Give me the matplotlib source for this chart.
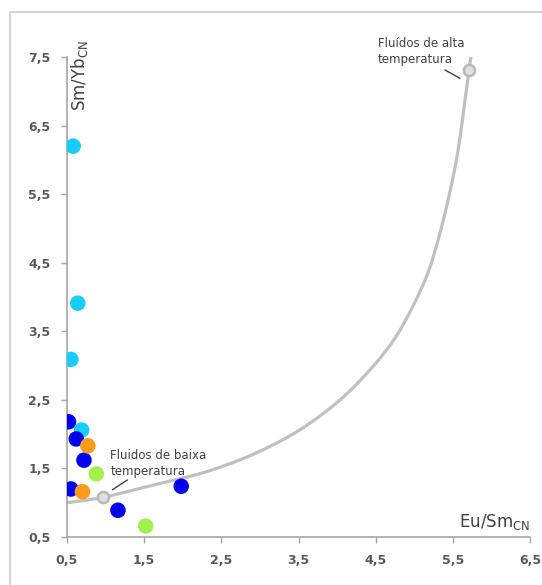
import matplotlib
matplotlib.use("Agg")
import numpy as np
import matplotlib.pyplot as plt
from matplotlib.patches import Rectangle, PathPatch
from matplotlib.path import Path

# Samples grouped by colour (Eu/Sm_CN, Sm/Yb_CN)
blue_x = [0.52, 0.62, 0.72, 0.55, 1.98, 1.16]
blue_y = [2.18, 1.93, 1.62, 1.20, 1.24, 0.89]
cyan_x = [0.58, 0.64, 0.55, 0.69]
cyan_y = [6.20, 3.91, 3.09, 2.06]
orange_x = [0.77, 0.70]
orange_y = [1.83, 1.16]
green_x = [0.88, 1.52]
green_y = [1.42, 0.66]

# Fluid evolution curve
curve_x = [0.50, 0.97, 1.70, 2.30, 2.90, 3.50, 4.04, 4.46, 4.75, 4.98,
           5.18, 5.33, 5.46, 5.565, 5.64, 5.71, 5.74]
curve_y = [1.00, 1.08, 1.28, 1.45, 1.70, 2.05, 2.50, 2.98, 3.40, 3.86,
           4.36, 4.92, 5.52, 6.12, 6.72, 7.31, 7.55]
end_x = [0.97, 5.71]
end_y = [1.08, 7.31]

x_ticks = [0.5, 1.5, 2.5, 3.5, 4.5, 5.5, 6.5]
y_ticks = [0.5, 1.5, 2.5, 3.5, 4.5, 5.5, 6.5, 7.5]


def smooth_path(xs, ys):
    """Cubic Bezier path through the points (Catmull-Rom tangents)."""
    p = np.column_stack([xs, ys]).astype(float)
    n = len(p)
    verts = [p[0]]
    codes = [Path.MOVETO]
    for i in range(n - 1):
        p0 = p[i - 1] if i > 0 else p[i]
        p1 = p[i]
        p2 = p[i + 1]
        p3 = p[i + 2] if i + 2 < n else p[i + 1]
        c1 = p1 + (p2 - p0) / 6.0
        c2 = p2 - (p3 - p1) / 6.0
        verts += [c1, c2, p2]
        codes += [Path.CURVE4] * 3
    return Path(verts, codes)


fig = plt.figure(figsize=(5.42, 5.85), dpi=100)
ax = fig.add_axes([67 / 542, 1 - 537 / 585, (530 - 67) / 542, (537 - 57) / 585])

# outer chart-area border
fig.patches.append(Rectangle((10 / 542, -0.02), 1.05, 1 - 12 / 585 + 0.02,
                             transform=fig.transFigure, fill=False,
                             edgecolor="#d4d4d4", linewidth=1.5))

ax.add_patch(PathPatch(smooth_path(curve_x, curve_y), facecolor="none",
                       edgecolor="#c0c0c0", linewidth=2.3, zorder=2,
                       capstyle="round", joinstyle="round"))
ax.plot(end_x, end_y, linestyle="none", marker="o", markersize=8,
        markerfacecolor="#e0e0e0", markeredgecolor="#b8b8b8",
        markeredgewidth=1.8, zorder=3)

ms = 125
ax.scatter(cyan_x, cyan_y, s=ms, color="#17CCFF", edgecolors="none", zorder=4)
ax.scatter(blue_x, blue_y, s=ms, color="#0000F0", edgecolors="none", zorder=5)
ax.scatter(orange_x, orange_y, s=ms, color="#FF9A1A", edgecolors="none", zorder=6)
ax.scatter(green_x, green_y, s=ms, color="#A0F050", edgecolors="none", zorder=4)

ax.set_xlim(0.5, 6.5)
ax.set_ylim(0.5, 7.5)
ax.set_xticks(x_ticks)
ax.set_yticks(y_ticks)
ax.set_xticklabels([f"{v:.1f}".replace(".", ",") for v in x_ticks])
ax.set_yticklabels([f"{v:.1f}".replace(".", ",") for v in y_ticks])

for side in ("top", "right"):
    ax.spines[side].set_visible(False)
for side in ("left", "bottom"):
    ax.spines[side].set_color("#a6a6a6")
    ax.spines[side].set_linewidth(1.2)
ax.tick_params(axis="both", direction="out", length=4, width=1.0,
               color="#a6a6a6", labelsize=9, labelcolor="#595959")
ax.tick_params(axis="x", pad=8)
ax.tick_params(axis="y", pad=8)
for lab in ax.get_xticklabels() + ax.get_yticklabels():
    lab.set_fontweight("bold")

# axis titles
fig.text(80 / 542, 1 - 40 / 585, r"Sm/Yb$_{\mathregular{CN}}$", rotation=90,
         ha="center", va="top", fontsize=12, color="#404040")
fig.text(530 / 542, 1 - 522 / 585, r"Eu/Sm$_{\mathregular{CN}}$",
         ha="right", va="center", fontsize=12, color="#404040")

# annotations
ax.text(1.06, 1.78, "Fluidos de baixa\ntemperatura", fontsize=8.5,
        color="#404040", ha="left", va="top", linespacing=1.3)
ax.plot([1.09, 1.28], [1.19, 1.33], color="#404040", linewidth=1.0, zorder=3)

ax.text(4.53, 7.79, "Fluídos de alta\ntemperatura", fontsize=8.5, color="#404040",
        ha="left", va="top", linespacing=1.3, clip_on=False)
ax.plot([5.40, 5.59], [7.31, 7.19], color="#404040", linewidth=1.0, zorder=3)

fig.savefig("out.png", dpi=100)
